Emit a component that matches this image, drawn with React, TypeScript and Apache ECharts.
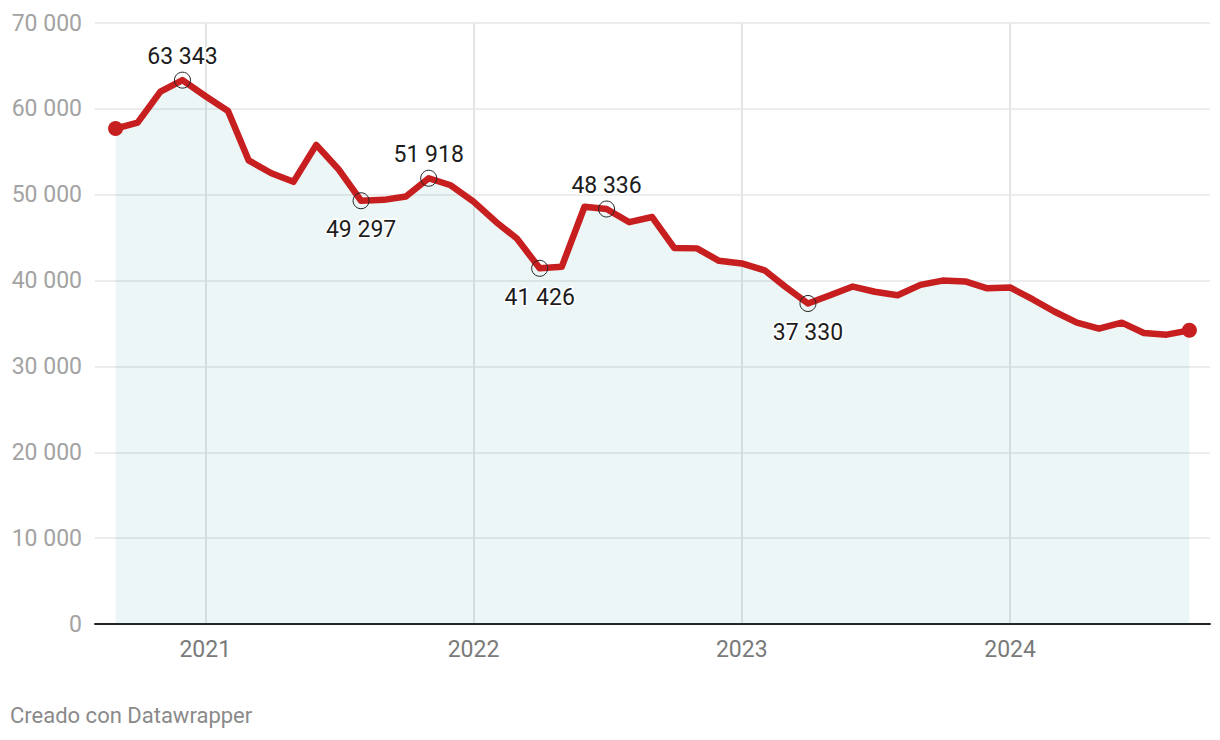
import React, { useEffect, useRef } from "react";
import * as echarts from "echarts";

// Monthly values, Sep 2020 – Sep 2024
const startYear = 2020;
const startMonth = 8; // September (0-based)
const values = [
  57700, 58400, 62000, 63343, 61500, 59750, 54000, 52500, 51500, 55800, 53000, 49297,
  49400, 49800, 51918, 51100, 49200, 46800, 44900, 41426, 41600, 48600, 48336, 46800,
  47400, 43800, 43750, 42300, 42000, 41200, 39300, 37330, 38300, 39300, 38700, 38300,
  39500, 40000, 39900, 39100, 39200, 37800, 36400, 35100, 34400, 35100, 33900, 33700,
  34200,
];
// annotated indices and label position
const annotated: Record<number, "top" | "bottom"> = {
  3: "top",
  11: "bottom",
  14: "top",
  19: "bottom",
  22: "top",
  31: "bottom",
};
const yearTicks = [2021, 2022, 2023, 2024];

const fmt = (v: number) => String(Math.round(v)).replace(/\B(?=(\d{3})+(?!\d))/g, " ");

export default function App() {
  const ref = useRef<HTMLDivElement>(null);
  useEffect(() => {
    if (!ref.current) return;
    const chart = echarts.init(ref.current, undefined, { renderer: "svg" });
    const RED = "#c71f1f";
    const data = values.map((v, i) => {
      const t = Date.UTC(startYear, startMonth + i, 1);
      const last = i === 0 || i === values.length - 1;
      const pos = annotated[i];
      if (last) {
        return {
          value: [t, v],
          symbol: "circle",
          symbolSize: 15,
          itemStyle: { color: RED, borderWidth: 0 },
        };
      }
      if (pos) {
        return {
          value: [t, v],
          symbol: "circle",
          symbolSize: 16,
          itemStyle: { color: "rgba(0,0,0,0)", borderColor: "#222", borderWidth: 1 },
          label: {
            show: true,
            position: pos,
            distance: pos === "top" ? 4 : 9,
            formatter: () => fmt(v),
            fontSize: 23,
            fontFamily: "Roboto",
            color: "#1d1d1d",
            textBorderColor: "#fff",
            textBorderWidth: 3,
          },
        };
      }
      return { value: [t, v], symbol: "none" };
    });
    chart.setOption({
      animation: false,
      textStyle: { fontFamily: "Roboto" },
      grid: { left: 95, right: 10, top: 23, bottom: 116, containLabel: false },
      xAxis: {
        type: "value",
        min: Date.UTC(2020, 7, 4),
        max: Date.UTC(2024, 8, 29),
        axisLine: { show: true, onZero: false, lineStyle: { color: "#222", width: 2 } },
        axisTick: { show: false, customValues: yearTicks.map((y) => Date.UTC(y, 0, 1)) },
        axisLabel: {
          customValues: yearTicks.map((y) => Date.UTC(y, 0, 1)),
          formatter: (v: number) => String(new Date(v).getUTCFullYear()),
          fontSize: 23,
          color: "#7a7a7a",
          margin: 14,
          fontFamily: "Roboto",
        },
        splitLine: { show: true, lineStyle: { color: "#e4e4e4", width: 2 } },
      },
      yAxis: {
        type: "value",
        min: 0,
        max: 70000,
        interval: 10000,
        axisLine: { show: false },
        axisTick: { show: false },
        axisLabel: {
          formatter: (v: number) => fmt(v),
          fontSize: 23,
          color: "#a3a3a3",
          margin: 13,
          fontFamily: "Roboto",
        },
        splitLine: { show: true, lineStyle: { color: "#e6e6e6", width: 1.5 } },
      },
      series: [
        {
          type: "line",
          data,
          showSymbol: true,
          symbol: "none",
          lineStyle: { color: RED, width: 6.5, join: "round", cap: "round" },
          itemStyle: { color: RED },
          areaStyle: { color: "rgba(7,128,128,0.105)", origin: "start" },
          label: { show: false },
          emphasis: { disabled: true },
          z: 3,
        },
      ],
      graphic: [
        {
          type: "text",
          left: 10,
          top: 704,
          style: {
            text: "Creado con Datawrapper",
            fontSize: 22,
            fontFamily: "Roboto",
            fill: "#8a8a8a",
          },
        },
      ],
    });
    return () => chart.dispose();
  }, []);
  return (
    <div
      ref={ref}
      style={{ position: "fixed", left: 0, top: 0, width: 1220, height: 740, background: "#fff" }}
    />
  );
}
